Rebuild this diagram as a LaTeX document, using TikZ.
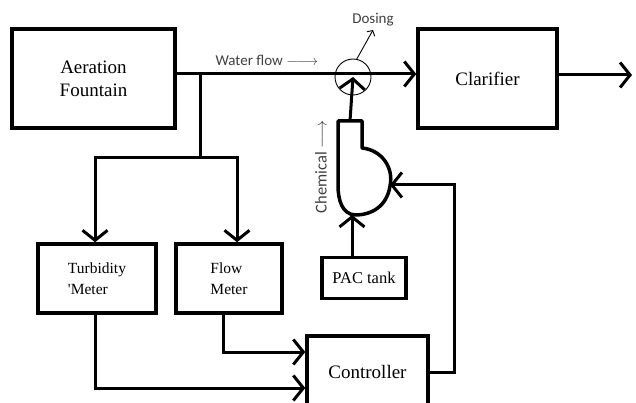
\documentclass[tikz,border=0pt]{standalone}
\usepackage{fontspec}
\setmainfont{Liberation Serif}
\newfontfamily\unitfont{Liberation Serif}
\newfontfamily\labelfont{Carlito}
\usetikzlibrary{arrows.meta}

\tikzset{
  unit/.style={draw, line width=3.5pt, rectangle, inner sep=2pt, font=\unitfont\fontsize{19}{23}\selectfont},
  meter/.style={unit, align=left, font=\unitfont\fontsize{15.5}{21}\selectfont},
  flow/.style={line width=3pt, -{Straight Barb[length=10pt,width=25pt]}},
  pipe/.style={line width=3pt},
  note/.style={font=\labelfont\fontsize{15}{18}\selectfont, text=black!75}
}

\begin{document}
\begin{tikzpicture}[x=1pt, y=-1pt]
    \useasboundingbox (0,0) rectangle (636,403);
    \clip (0,0) rectangle (636,403);

    % process units
    \node[unit, minimum width=163pt, minimum height=99pt, align=center] (fountain) at (93.5,78.5) {Aeration\\Fountain};
    \node[unit, minimum width=139pt, minimum height=99pt] (clarifier) at (487.5,78.5) {Clarifier};
    \node[meter, minimum width=118pt, minimum height=69pt] (turbidity) at (97,278.5) {Turbidity\\\textquotesingle Meter};
    \node[meter, minimum width=106pt, minimum height=69pt] (flowmeter) at (229,278.5) {Flow\\Meter};
    \node[unit, minimum width=84pt, minimum height=41pt, font=\unitfont\fontsize{16.5}{20}\selectfont] (pac) at (364,278) {PAC tank};
    \node[unit, minimum width=121pt, minimum height=72pt] (controller) at (367.5,372) {Controller};

    % dosing point and pump
    \node[draw, circle, line width=0.9pt, minimum size=36pt] (dosing) at (353,77) {};
    \draw[line width=3.5pt, line join=round] (338,121) -- (362,121) -- (362,148)
        .. controls (382,150) and (394,168) .. (390,186)
        .. controls (387,206) and (372,215) .. (355,215)
        .. controls (342,214) and (338,200) .. (338,185) -- cycle;
    \coordinate (pumptop) at (350,121);
    \coordinate (pumpin) at (390,185);
    \coordinate (pumpbot) at (352,215);

    % main water line
    \coordinate (split) at (200,74);
    \coordinate (fork) at (200,158);
    \draw[flow] (split -| fountain.east) -- (split -| clarifier.west);
    \coordinate (outlet) at (632,75);
    \draw[flow] (clarifier.east |- outlet) -- (outlet);

    % branch to the meters
    \draw[pipe] (split) -- (fork);
    \draw[flow] (fork) -| ([xshift=-2pt]turbidity.north);
    \draw[flow] (fork) -| ([xshift=8pt]flowmeter.north);

    % signals to the controller
    \draw[flow] ([xshift=-2pt]turbidity.south) |- ([yshift=-16pt]controller.west);
    \draw[flow] ([xshift=-6pt]flowmeter.south) |- ([yshift=20pt]controller.west);
    \coordinate (loop) at (454,185);
    \draw[flow] (controller.east) -| (loop) -- (pumpin);

    % chemical feed
    \draw[flow] ([xshift=-12pt]pac.north) -- (pumpbot);
    \draw[flow] (pumptop) -- (dosing.center);
    \node[note] (dosinglabel) at (373,20) {Dosing};
    \draw[line width=0.9pt, -{Straight Barb[length=4pt,width=9pt]}] (dosing.78) -- (dosinglabel.south);

    % labels
    \node[note, anchor=west] (waterlabel) at (212,60) {Water flow $\relbar\joinrel\longrightarrow$};
    \node[note, rotate=90, font=\labelfont\fontsize{16.5}{20}\selectfont] (chemlabel) at (321,167) {Chemical $\longrightarrow$};
\end{tikzpicture}
\end{document}
